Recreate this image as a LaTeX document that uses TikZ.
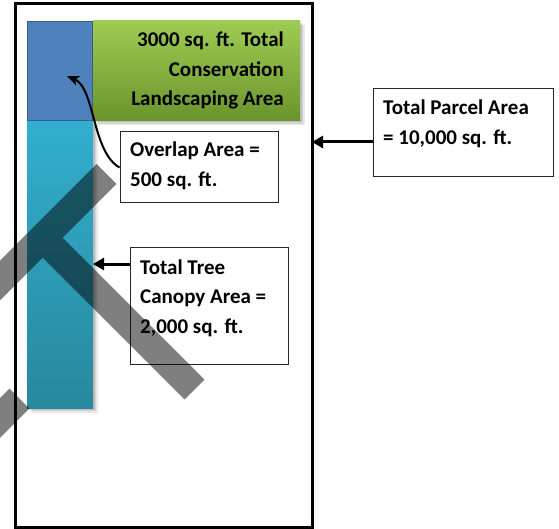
\documentclass[tikz,border=0pt]{standalone}
\usepackage{fontspec}
\setmainfont{Carlito}
\usetikzlibrary{arrows.meta}
\definecolor{blueA}{RGB}{79,129,189}
\definecolor{blueB}{RGB}{56,93,138}
\definecolor{greenT}{RGB}{158,204,82}
\definecolor{greenB}{RGB}{106,148,44}
\definecolor{cyanT}{RGB}{50,174,206}
\definecolor{cyanB}{RGB}{40,136,158}
\newcommand\rlines[1]{\vtop{\halign{\hfil##\cr#1\crcr}}}
\newcommand\llines[1]{\vtop{\halign{##\hfil\cr#1\crcr}}}
\begin{document}
\begin{tikzpicture}[x=1pt,y=-1pt,
  lbl/.style={inner sep=0pt, font=\bfseries\fontsize{21}{29.5}\selectfont},
  callout/.style={draw=black!85, line width=1pt, fill=white, inner sep=0pt},
  area/.style={inner sep=0pt, outer sep=0pt},
  conn/.style={line width=3pt, -{Triangle[length=11pt,width=12pt]}},
  curvearrow/.style={line width=2pt, -{Stealth[length=12pt,width=10pt,inset=3pt]}},
  shade/.style={black, opacity=0.09},
  band/.style={black, opacity=0.5}]
\fill[white] (0,0) rectangle (559,529);
\useasboundingbox (0,0) rectangle (559,529);
% total parcel
\node[area, draw=black, line width=3pt, minimum width=297pt, minimum height=523pt] (lot) at (163.5,265.5) {};
% shadows
\foreach \s in {1.5,3,4.5}{
  \fill[shade] (93+\s,21+\s) rectangle (300+\s,121+\s);
  \fill[shade] (27+\s,121+\s) rectangle (93+\s,408+\s);
}
% tree canopy bar
\node[area, top color=cyanT, bottom color=cyanB, minimum width=66pt, minimum height=287pt] (cyan) at (60,264.5) {};
% overlap square
\node[area, fill=blueA, draw=blueB, line width=1.5pt, minimum width=65pt, minimum height=99pt] (blue) at (60,71) {};
% conservation landscaping
\node[area, top color=greenT, bottom color=greenB, minimum width=207pt, minimum height=100pt] (green) at (196.5,71) {};
\node[lbl, anchor=base east] (gtxt) at (284,47) {\rlines{3000 sq. ft. Total\cr Conservation\cr Landscaping Area}};
% callouts
\node[callout, minimum width=158pt, minimum height=71pt] (ovl) at (199,167.5) {};
\node[lbl, anchor=base west] (otxt) at (130,157) {\llines{Overlap Area =\cr 500 sq. ft.}};
\node[callout, minimum width=158pt, minimum height=116pt] (tree) at (209,306) {};
\node[lbl, anchor=base west] (ttxt) at (140,274) {\llines{Total Tree\cr Canopy Area =\cr 2,000 sq. ft.}};
\node[callout, minimum width=180pt, minimum height=88pt] (par) at (463,133) {};
\node[lbl, anchor=base west] (ptxt) at (383,115) {\llines{Total Parcel Area\cr = 10,000 sq. ft.}};
% connectors
\coordinate (ovtip) at (67,76);
\draw[curvearrow] (ovl.west) .. controls (92,152) and (95,88) .. (ovtip);
\draw[conn] ([yshift=-9pt]par.west) -- ([yshift=-9pt]par.west -| lot.east);
\draw[conn] ([yshift=42pt]tree.west) -- ([yshift=42pt]tree.west -| cyan.east);
% watermark bands
\fill[band] (-40.1,340.4) -- (42.75,257.55) -- (184.6,399.4) -- (204.4,379.6)
  -- (62.55,237.75) -- (116.4,183.9) -- (96.6,164.1) -- (-59.9,320.6) -- cycle;
\fill[band] (9.6,388.6) -- (29.4,408.4) -- (-70.6,508.4) -- (-90.4,488.6) -- cycle;
\end{tikzpicture}
\end{document}
